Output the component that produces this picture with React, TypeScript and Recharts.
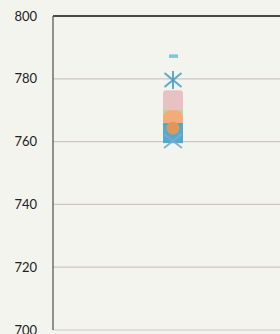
import { CartesianGrid, ReferenceLine, Scatter, ScatterChart, XAxis, YAxis } from "recharts";

const categories = ["A"];
const yTicks = [700, 720, 740, 760, 780, 800];

// one value per series, all in the single category
const greenValues = [769.5];
const pinkValues = [773.2];
const orangeBlockValues = [766.8];
const blueSquareValues = [762.7];
const orangeDotValues = [764.3];
const crossValues = [760.2];
const starValues = [779.6];
const dashValues = [787.3];

const toPoints = (values: number[]) =>
  values.map((v, i) => ({ x: categories.indexOf(categories[i]) + 1, y: v }));

const square = (fill: string, size = 20, rx = 0, opacity = 1) => (p: any) => (
  <rect
    x={p.cx - size / 2}
    y={p.cy - size / 2}
    width={size}
    height={size}
    rx={rx}
    fill={fill}
    fillOpacity={opacity}
  />
);

const dot = (p: any) => <circle cx={p.cx} cy={p.cy} r={6.5} fill="#ee954f" fillOpacity={0.9} />;

const dash = (p: any) => <rect x={p.cx - 4} y={p.cy - 1.5} width={9} height={3.5} fill="#7cc6df" />;

const cross = (p: any) => (
  <g stroke="#7aa9d8" strokeWidth={2} strokeOpacity={0.9}>
    <line x1={p.cx - 9} y1={p.cy - 7} x2={p.cx + 9} y2={p.cy + 7} />
    <line x1={p.cx - 9} y1={p.cy + 7} x2={p.cx + 9} y2={p.cy - 7} />
  </g>
);

const star = (p: any) => (
  <g stroke="#4aa3c4" strokeWidth={2} strokeOpacity={0.9}>
    <line x1={p.cx} y1={p.cy - 9} x2={p.cx} y2={p.cy + 9} />
    <line x1={p.cx - 8.5} y1={p.cy - 7} x2={p.cx + 8.5} y2={p.cy + 7} />
    <line x1={p.cx - 8.5} y1={p.cy + 7} x2={p.cx + 8.5} y2={p.cy - 7} />
  </g>
);

export default function App() {
  return (
    <div
      style={{
        position: "absolute",
        top: 0,
        left: 0,
        width: 280,
        height: 334,
        overflow: "hidden",
        background: "#f4f4ef",
      }}
    >
      <ScatterChart width={293} height={334} margin={{ top: 16, right: 0, bottom: 4, left: 0 }}>
        <CartesianGrid vertical={false} horizontal stroke="#cdc5c5" strokeWidth={1.2} />
        <XAxis
          type="number"
          dataKey="x"
          domain={[0, categories.length + 1]}
          height={0}
          tick={false}
          tickLine={false}
          axisLine={{ stroke: "#5a5a5a", strokeWidth: 1.3 }}
        />
        <YAxis
          type="number"
          dataKey="y"
          domain={[700, 800]}
          ticks={yTicks}
          interval={0}
          width={53}
          tickLine={false}
          tickMargin={10}
          axisLine={{ stroke: "#5a5a5a", strokeWidth: 1.3 }}
          tick={{ fill: "#222", fontSize: 13, fontFamily: "Lato" }}
        />
        <ReferenceLine y={800} stroke="#1a1a1a" strokeWidth={1.5} />
        <Scatter data={toPoints(greenValues)} shape={square("#b7d59b")} isAnimationActive={false} />
        <Scatter data={toPoints(pinkValues)} shape={square("#e8c2c2", 20, 3)} isAnimationActive={false} />
        <Scatter data={toPoints(orangeBlockValues)} shape={square("#f4ab77", 20, 8)} isAnimationActive={false} />
        <Scatter data={toPoints(blueSquareValues)} shape={square("#47a7c9", 20, 0, 0.95)} isAnimationActive={false} />
        <Scatter data={toPoints(orangeDotValues)} shape={dot} isAnimationActive={false} />
        <Scatter data={toPoints(crossValues)} shape={cross} isAnimationActive={false} />
        <Scatter data={toPoints(starValues)} shape={star} isAnimationActive={false} />
        <Scatter data={toPoints(dashValues)} shape={dash} isAnimationActive={false} />
      </ScatterChart>
    </div>
  );
}
